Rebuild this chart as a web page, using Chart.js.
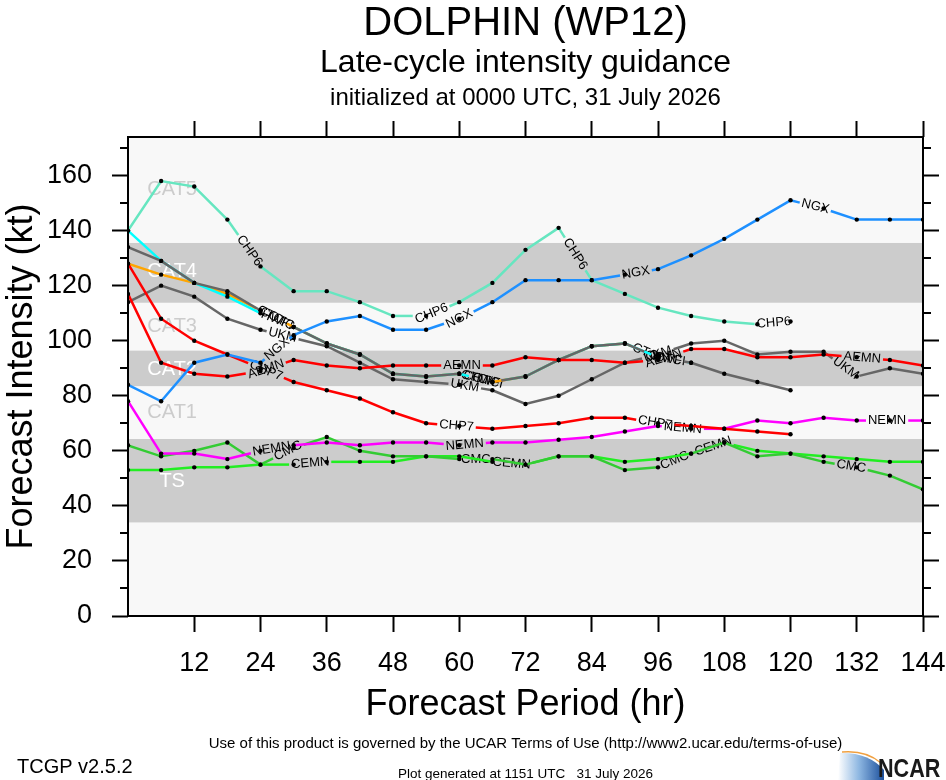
<!DOCTYPE html>
<html>
<head>
<meta charset="utf-8">
<script src="https://cdn.jsdelivr.net/npm/chart.js@4.4.1/dist/chart.umd.min.js"></script>
<style>
html,body{margin:0;padding:0;background:#fff;}
#wrap{position:relative;width:946px;height:780px;}
</style>
</head>
<body>
<div id="wrap"><canvas id="c" width="946" height="780"></canvas></div>
<script>
// ---------------- data ----------------
const hours = [0,6,12,18,24,30,36,42,48,54,60,66,72,78,84,90,96,102,108,114,120,126,132,138,144];
const xTickValues = [12,24,36,48,60,72,84,96,108,120,132,144];
const yTickValues = [0,20,40,60,80,100,120,140,160];
const yMinorTickValues = [10,30,50,70,90,110,130,150,170];

const CHP6 = [140,158,156,144,127,118,118,114,109,109,114,121,133,141,122,117,112,109,107,106,107,null,null,null,null];
const NGX  = [84,78,92,95,92,102,107,109,104,104,108,114,122,122,122,124,126,131,137,144,151,148,144,144,144];
const AEMN = [117,92,88,87,89,93,91,90,91,91,91,91,94,93,93,92,93,97,97,94,94,95,94,93,91];
const CHP7 = [128,108,100,95,90,85,82,79,74,70,69,68,69,70,72,72,70,69,68,67,66,null,null,null,null];
const NEMN = [78,59,59,57,60,62,63,62,63,63,62,63,63,64,65,67,69,68,68,71,70,72,71,71,71];
const CMC  = [62,58,60,63,55,61,65,60,58,58,57,57,55,58,58,53,54,59,63,58,59,56,54,51,46];
const CEMN = [53,53,54,54,55,55,56,56,56,58,58,56,55,58,58,56,57,59,63,60,59,58,57,56,56];
const UKM  = [114,120,116,108,104,101,98,92,86,85,84,82,77,80,86,92,95,99,100,95,96,96,87,90,88];
const COTC = [134,129,121,118,111,105,99,95,88,87,88,85,87,93,98,99,94,92,88,85,82,null,null,null,null];
const HWFI = [140,129,121,116,110,105,99,95,88,87,88,85,87,93,98,99,94,92,null,null,null,null,null,null,null];
const CTCI = [128,124,121,117,111,105,99,95,88,87,88,85,87,93,98,99,94,null,null,null,null,null,null,null,null];

// intensity category bands and their labels
const bandRanges = [[34,64.3],[83.5,96.4],[113.8,135.5]];
const catNames = ['CAT5','CAT4','CAT3','CAT2','CAT1','TS'];
const catLabelKt = [155,125,105,89.5,74,49];
const catLabelHour = 8;

// ---------------- styling ----------------
const FONT = '"Liberation Sans", Arial, Helvetica, sans-serif';
const LABEL_FONT = '13px ' + FONT;

const seriesDefs = [
  {name:'NGX',  data:NGX,  color:'#1e90ff', labels:[27,60,92,124.5]},
  {name:'CHP6', data:CHP6, color:'#66e6c0', labels:[22,55,81,117]},
  {name:'AEMN', data:AEMN, color:'#ff0000', labels:[25,60.5,97,133]},
  {name:'CHP7', data:CHP7, color:'#ff0000', labels:[25,59.5,95.5]},
  {name:'NEMN', data:NEMN, color:'#ff00ff', labels:[26,61,100.5,137.5]},
  {name:'CMC',  data:CMC,  color:'#33cc33', labels:[29,63,99,131]},
  {name:'CEMN', data:CEMN, color:'#22ee22', labels:[33,69.5,106]},
  {name:'UKM',  data:UKM,  color:'#666666', labels:[28,61,96,130]},
  {name:'COTC', data:COTC, color:'#666666', labels:[27,64,97]},
  {name:'HWFI', data:HWFI, color:'#00ffff', labels:[27,65,98]},
  {name:'CTCI', data:CTCI, color:'#ffa500', labels:[26,63,94]}
];

// ---------------- label geometry helpers ----------------
function labelHalfWidth(chart, text){
  const c = chart.ctx; c.save(); c.font = LABEL_FONT;
  const w = c.measureText(text).width; c.restore();
  return w/2 + 2;
}
function polyInfo(chart, di){
  const ds = chart.data.datasets[di];
  const pts = chart.getDatasetMeta(di).data;
  let n = 0; while (n < ds.data.length && ds.data[n].y !== null) n++;
  const lens = [], cum = [0];
  for (let i = 0; i < n-1; i++){
    const d = Math.hypot(pts[i+1].x-pts[i].x, pts[i+1].y-pts[i].y);
    lens.push(d); cum.push(cum[i]+d);
  }
  return {pts, n, lens, cum};
}
function labelPlace(info, hour){
  let k = 0;
  while (k < hours.length-2 && hours[k+1] <= hour) k++;
  let t = (hour - hours[k])/(hours[k+1]-hours[k]);
  if (k > info.n-2){ k = info.n-2; t = 1; }
  const p0 = info.pts[k], p1 = info.pts[k+1];
  return {x:p0.x+(p1.x-p0.x)*t, y:p0.y+(p1.y-p0.y)*t,
          ang:Math.atan2(p1.y-p0.y, p1.x-p0.x), s:info.cum[k]+t*info.lens[k]};
}
function segDash(ctx){
  const chart = ctx.chart, di = ctx.datasetIndex, a = ctx.p0DataIndex;
  const ds = chart.data.datasets[di];
  if (!ds.lineLabels) return undefined;
  const info = polyInfo(chart, di);
  if (a >= info.n-1) return undefined;
  const hw = labelHalfWidth(chart, ds.label);
  const L = info.lens[a], base = info.cum[a];
  const iv = [];
  for (const h of ds.lineLabels){
    const pl = labelPlace(info, h);
    const g0 = pl.s-hw-base, g1 = pl.s+hw-base;
    if (g1 > 0 && g0 < L) iv.push([Math.max(0,g0), Math.min(L,g1)]);
  }
  if (!iv.length) return undefined;
  iv.sort((p,q)=>p[0]-q[0]);
  const pat = []; let pos = 0;
  for (const [g0,g1] of iv){
    if (g1 <= pos) continue;
    const s0 = Math.max(g0,pos);
    pat.push(s0-pos, g1-s0); pos = g1;
  }
  pat.push(100000, 0);
  return pat;
}

// ---------------- plugins ----------------
const backdrop = {
  id:'backdrop',
  beforeDatasetsDraw(chart){
    const c = chart.ctx, a = chart.chartArea, ys = chart.scales.y, xs = chart.scales.x;
    c.save();
    c.fillStyle = '#f8f8f8';
    c.fillRect(a.left, a.top, a.right-a.left, a.bottom-a.top);
    c.fillStyle = '#cccccc';
    bandRanges.forEach(([lo,hi])=>{
      const y1 = ys.getPixelForValue(hi), y2 = ys.getPixelForValue(lo);
      c.fillRect(a.left, y1, a.right-a.left, y2-y1);
    });
    c.font = '20px ' + FONT; c.textAlign = 'center'; c.textBaseline = 'middle';
    catNames.forEach((t,i)=>{
      const v = catLabelKt[i];
      const inBand = bandRanges.some(([lo,hi])=> v>=lo && v<=hi);
      c.fillStyle = inBand ? '#ffffff' : '#cccccc';
      c.fillText(t, xs.getPixelForValue(catLabelHour), ys.getPixelForValue(v));
    });
    // line labels
    c.font = LABEL_FONT; c.fillStyle = '#000';
    chart.data.datasets.forEach((ds,di)=>{
      if (!ds.lineLabels) return;
      const info = polyInfo(chart, di);
      ds.lineLabels.forEach(h=>{
        const pl = labelPlace(info, h);
        let an = pl.ang;
        if (an > Math.PI/2) an -= Math.PI;
        if (an < -Math.PI/2) an += Math.PI;
        c.save(); c.translate(pl.x, pl.y); c.rotate(an);
        c.textAlign = 'center'; c.textBaseline = 'middle';
        c.fillText(ds.label, 0, 0); c.restore();
      });
    });
    c.restore();
  },
  afterDatasetsDraw(chart){
    const c = chart.ctx, a = chart.chartArea, ys = chart.scales.y;
    c.save();
    c.strokeStyle = '#000'; c.lineWidth = 2;
    c.strokeRect(a.left, a.top, a.right-a.left, a.bottom-a.top);
    c.lineWidth = 2;
    yMinorTickValues.forEach(v=>{
      const y = Math.round(ys.getPixelForValue(v));
      c.beginPath(); c.moveTo(a.left-8, y); c.lineTo(a.left, y);
      c.moveTo(a.right, y); c.lineTo(a.right+8, y); c.stroke();
    });
    c.restore();
  }
};

const texts = {
  id:'texts',
  afterDraw(chart){
    const c = chart.ctx, a = chart.chartArea;
    const cx = (a.left + a.right)/2;
    c.save();
    c.fillStyle = '#000'; c.textAlign = 'center'; c.textBaseline = 'alphabetic';
    c.font = '40px ' + FONT; c.fillText('DOLPHIN (WP12)', cx, 35);
    c.font = '32px ' + FONT; c.fillText('Late-cycle intensity guidance', cx, 72);
    c.font = '24px ' + FONT; c.fillText('initialized at 0000 UTC, 31 July 2026', cx, 105);
    c.font = '15px ' + FONT;
    c.fillText('Use of this product is governed by the UCAR Terms of Use (http://www2.ucar.edu/terms-of-use)', cx, 748);
    c.font = '13.5px ' + FONT;
    c.fillText('Plot generated at 1151 UTC   31 July 2026', cx, 778);
    c.textAlign = 'left';
    c.font = '20px ' + FONT; c.fillText('TCGP v2.5.2', 17, 773);
    // NCAR logo
    const g = c.createLinearGradient(838,0,884,0);
    g.addColorStop(0,'rgba(255,255,255,1)'); g.addColorStop(0.45,'#8fb8e2'); g.addColorStop(1,'#1b4f9c');
    c.fillStyle = g;
    c.beginPath(); c.moveTo(838,780); c.lineTo(840,753);
    c.quadraticCurveTo(868,752,884,770); c.lineTo(884,780); c.closePath(); c.fill();
    c.strokeStyle = '#f0a040'; c.lineWidth = 1.5;
    c.beginPath(); c.moveTo(842,752); c.quadraticCurveTo(866,750,881,763); c.stroke();
    c.translate(878,777); c.scale(0.83,1);
    c.font = 'bold 26px ' + FONT; c.fillStyle = '#1a1a1a';
    c.fillText('NCAR', 0, 0);
    c.restore();
  }
};

// ---------------- chart ----------------
const tickGrid = {display:true, drawOnChartArea:false, drawTicks:true, tickLength:16, tickWidth:2, tickColor:'#000'};
function noPad(s){ s.paddingLeft = 0; s.paddingRight = 0; s.paddingTop = 0; s.paddingBottom = 0; }

const datasets = seriesDefs.map(s=>({
  label: s.name,
  data: hours.map((h,i)=>({x:h, y:s.data[i]})),
  borderColor: s.color,
  backgroundColor: s.color,
  borderWidth: 2.5,
  tension: 0,
  pointRadius: 2.2,
  pointBackgroundColor: '#000',
  pointBorderWidth: 0,
  xAxisID: 'x', yAxisID: 'y',
  lineLabels: s.labels,
  segment: {borderDash: segDash}
}));

new Chart(document.getElementById('c'), {
  type: 'line',
  data: {datasets},
  options: {
    responsive: false,
    animation: false,
    layout: {padding: 0},
    plugins: {legend:{display:false}, tooltip:{enabled:false}, title:{display:false}},
    scales: {
      x: {
        type:'linear', position:'bottom', min:0, max:144,
        afterBuildTicks: s=>{ s.ticks = xTickValues.map(v=>({value:v})); },
        afterFit: s=>{ s.height = 164; noPad(s); },
        grid: tickGrid, border:{display:false},
        ticks: {font:{family:FONT, size:27}, color:'#000', padding:15, maxRotation:0, autoSkip:false},
        title: {display:true, text:'Forecast Period (hr)', color:'#000', font:{family:FONT, size:36}, padding:{top:0, bottom:53}}
      },
      xTop: {
        type:'linear', position:'top', min:0, max:144,
        afterBuildTicks: s=>{ s.ticks = xTickValues.map(v=>({value:v})); },
        afterFit: s=>{ s.height = 137; noPad(s); },
        grid: tickGrid, border:{display:false},
        ticks: {display:false}
      },
      y: {
        type:'linear', position:'left', min:0, max:174,
        afterBuildTicks: s=>{ s.ticks = yTickValues.map(v=>({value:v})); },
        afterFit: s=>{ s.width = 128; noPad(s); },
        grid: tickGrid, border:{display:false},
        ticks: {font:{family:FONT, size:27}, color:'#000', padding:20, autoSkip:false},
        title: {display:true, text:'Forecast Intensity (kt)', color:'#000', font:{family:FONT, size:36}, padding:{top:0, bottom:0}}
      },
      yRight: {
        type:'linear', position:'right', min:0, max:174,
        afterBuildTicks: s=>{ s.ticks = yTickValues.map(v=>({value:v})); },
        afterFit: s=>{ s.width = 23; noPad(s); },
        grid: tickGrid, border:{display:false},
        ticks: {display:false}
      }
    }
  },
  plugins: [backdrop, texts]
});
</script>
</body>
</html>
